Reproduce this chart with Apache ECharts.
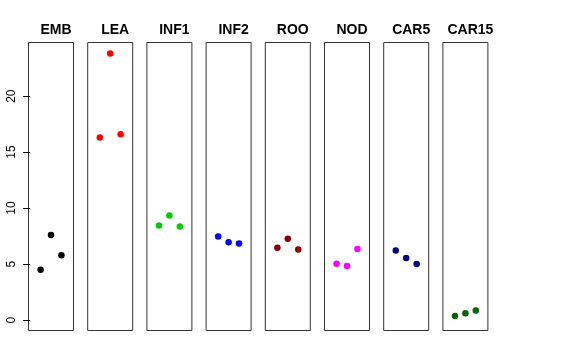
<!DOCTYPE html>
<html>
<head>
<meta charset="utf-8">
<script src="https://cdn.jsdelivr.net/npm/echarts@6/dist/echarts.min.js"></script>
<style>html,body{margin:0;padding:0;background:#fff}#c{width:576px;height:360px}</style>
</head>
<body>
<div id="c"></div>
<script>
const categories = ['EMB', 'LEA', 'INF1', 'INF2', 'ROO', 'NOD', 'CAR5', 'CAR15'];
const xPositions = [1, 2, 3];
const emb = [4.5, 7.6, 5.8];
const lea = [16.3, 23.8, 16.6];
const inf1 = [8.45, 9.35, 8.35];
const inf2 = [7.47, 6.96, 6.84];
const roo = [6.46, 7.26, 6.31];
const nod = [5.03, 4.82, 6.34];
const car5 = [6.22, 5.54, 5.0];
const car15 = [0.36, 0.62, 0.86];
const yTicks = [0, 5, 10, 15, 20];
const colors = ['#000000', '#FF0000', '#00CD00', '#0000FF', '#8B0000', '#FF00FF', '#000080', '#006400'];
const seriesValues = [emb, lea, inf1, inf2, roo, nod, car5, car15];

(function () {
  const FONT = 'Liberation Sans, Arial, Helvetica, sans-serif';
  const left0 = 28.5, step = 59.2, pw = 45, gTop = 42.5, ph = 288;
  const grids = [], xAxes = [], yAxes = [], series = [], titles = [];
  categories.forEach((cat, i) => {
    const l = left0 + i * step;
    grids.push({left: l, top: gTop, width: pw, height: ph, show: true,
      borderColor: '#333', borderWidth: 1, backgroundColor: '#fff', containLabel: false});
    xAxes.push({type: 'value', gridIndex: i, min: -0.16, max: 4.16, show: false});
    yAxes.push({type: 'value', gridIndex: i, min: -0.93, max: 24.79, show: i === 0,
      splitLine: {show: false}, axisLine: {show: false},
      axisTick: {show: i === 0, length: 7, customValues: yTicks, lineStyle: {color: '#000'}},
      axisLabel: {show: i === 0, customValues: yTicks, rotate: 90, margin: 11,
        fontFamily: FONT, fontSize: 12, color: '#000'}});
    series.push({type: 'scatter', xAxisIndex: i, yAxisIndex: i, symbol: 'circle', symbolSize: 6.5,
      itemStyle: {color: colors[i], opacity: 1},
      data: xPositions.map((x, k) => [x, seriesValues[i][k]]), silent: true, animation: false});
    titles.push({text: cat, left: l + pw / 2, top: 18, textAlign: 'center',
      textStyle: {fontFamily: FONT, fontSize: 14, fontWeight: 'bold', color: '#000'}});
  });

  const chart = echarts.init(document.getElementById('c'), null, {renderer: 'canvas'});
  chart.setOption({animation: false, backgroundColor: '#fff', title: titles,
    grid: grids, xAxis: xAxes, yAxis: yAxes, series: series});
})();
</script>
</body>
</html>
